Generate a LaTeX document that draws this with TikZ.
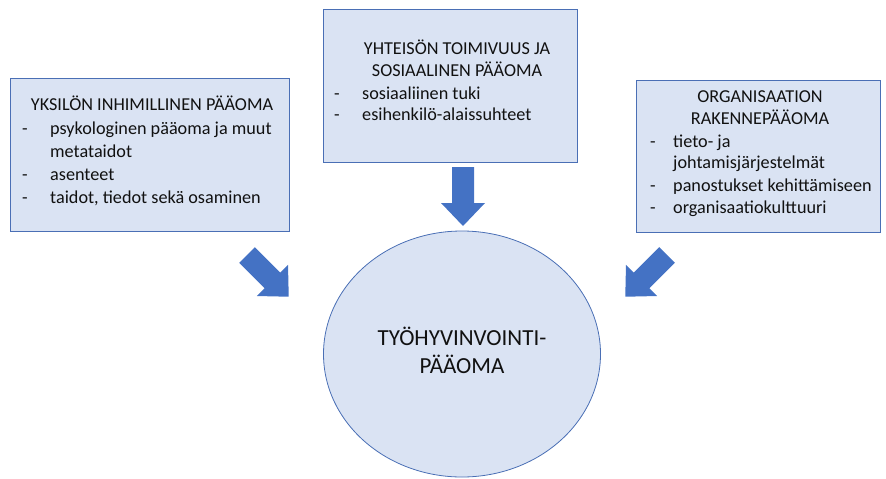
\documentclass[tikz,border=0pt]{standalone}
\usepackage{fontspec}
\setmainfont{Carlito}
\usetikzlibrary{shapes.geometric}
\definecolor{boxfill}{HTML}{DAE3F3}
\definecolor{boxline}{HTML}{4A6FB5}
\definecolor{arrowblue}{HTML}{4472C4}
\definecolor{txt}{HTML}{111111}
\begin{document}
\begin{tikzpicture}[x=1pt,y=-1pt,
  box/.style={draw=boxline,fill=boxfill,line width=0.8pt,inner sep=0pt,anchor=north west},
  itm/.style={anchor=mid west,inner sep=0pt,font=\fontsize{18.2}{22}\selectfont,text=txt},
  ttl/.style={anchor=mid,inner sep=0pt,font=\fontsize{18.2}{22}\selectfont,text=txt},
  big/.style={anchor=mid,inner sep=0pt,font=\fontsize{23}{27}\selectfont,text=txt},
  barrow/.pic={\fill[arrowblue] (0,-11) -- (36,-11) -- (36,-22) -- (59,0) -- (36,22) -- (36,11) -- (0,11) -- cycle;}]
\useasboundingbox (0,0) rectangle (886,479);
% boxes
\node[box,minimum width=279pt,minimum height=153pt] (L) at (10,78) {};
\node[box,minimum width=254pt,minimum height=153pt] (C) at (323,9) {};
\node[box,minimum width=244pt,minimum height=152pt] (R) at (636,80) {};
\node[draw=boxline,fill=boxfill,line width=0.8pt,ellipse,minimum width=277pt,minimum height=246pt,inner sep=0pt] (E) at (462,354) {};
% left texts
\node[ttl] (Lt) at (152,108) {YKSILÖN INHIMILLINEN PÄÄOMA};
\node[itm] (Ld1) at (22,132) {-};
\node[itm] (Li1) at (50,132) {psykologinen pääoma ja muut};
\node[itm] (Li1b) at (50,155) {metataidot};
\node[itm] (Ld2) at (22,178) {-};
\node[itm] (Li2) at (50,178) {asenteet};
\node[itm] (Ld3) at (22,201) {-};
\node[itm] (Li3) at (50,201) {taidot, tiedot sekä osaminen};
% center texts
\node[ttl] (Ct1) at (457,52) {YHTEISÖN TOIMIVUUS JA};
\node[ttl] (Ct2) at (457,74) {SOSIAALINEN PÄÄOMA};
\node[itm] (Cd1) at (334,97) {-};
\node[itm] (Ci1) at (362,97) {sosiaaliinen tuki};
\node[itm] (Cd2) at (334,118) {-};
\node[itm] (Ci2) at (362,118) {esihenkilö-alaissuhteet};
% right texts
\node[ttl] (Rt1) at (760,100) {ORGANISAATION};
\node[ttl] (Rt2) at (760,122) {RAKENNEPÄÄOMA};
\node[itm] (Rd1) at (650,145) {-};
\node[itm] (Ri1) at (673,145) {tieto- ja};
\node[itm] (Ri1b) at (673,166) {johtamisjärjestelmät};
\node[itm] (Rd2) at (650,189) {-};
\node[itm] (Ri2) at (673,189) {panostukset kehittämiseen};
\node[itm] (Rd3) at (650,211) {-};
\node[itm] (Ri3) at (673,211) {organisaatiokulttuuri};
% ellipse text
\node[big] (E1) at (462,343) {TYÖHYVINVOINTI-};
\node[big] (E2) at (462,371) {PÄÄOMA};
% arrows
\coordinate (aC) at (463,167);
\coordinate (aL) at (247,255);
\coordinate (aR) at (667,255);
\pic[rotate=-90] at (aC) {barrow};
\pic[rotate=-45] at (aL) {barrow};
\pic[rotate=-135] at (aR) {barrow};
\end{tikzpicture}
\end{document}
